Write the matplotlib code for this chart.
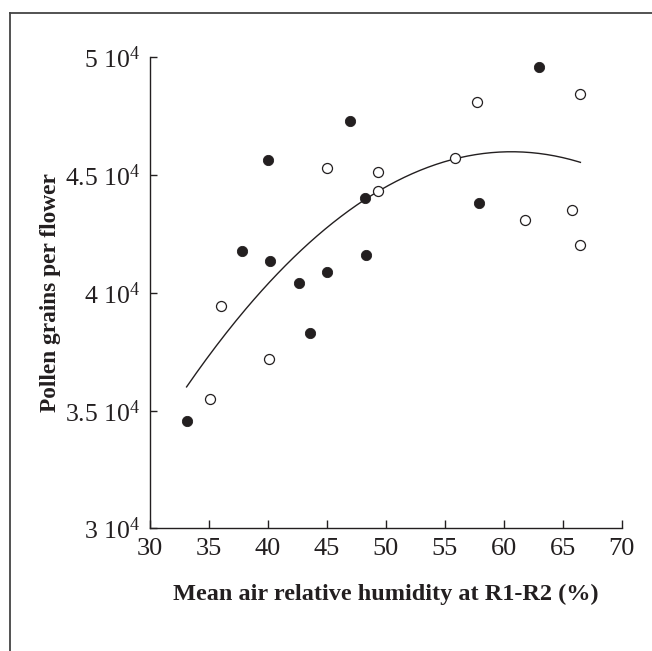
import numpy as np
import matplotlib
matplotlib.use("Agg")
from matplotlib import pyplot as plt
from matplotlib.lines import Line2D

plt.rcParams['font.family'] = ['Liberation Serif', 'DejaVu Serif']
plt.rcParams['mathtext.fontset'] = 'custom'
plt.rcParams['mathtext.rm'] = 'Liberation Serif'
plt.rcParams['mathtext.default'] = 'regular'

INK = '#231f20'

# filled circles
filled_x = [63.0, 47.0, 40.0, 48.2, 57.9, 37.8, 40.2, 48.3, 45.0, 42.6, 43.6, 33.1]
filled_y = [49570, 47280, 45630, 44040, 43830, 41760, 41370, 41620, 40890, 40410, 38280, 34580]

# open circles
open_x = [66.5, 57.7, 45.0, 49.3, 49.3, 55.9, 65.8, 61.8, 66.5, 36.0, 40.1, 35.1]
open_y = [48440, 48100, 45290, 45140, 44340, 45710, 43530, 43110, 42020, 39460, 37210, 35510]

# quadratic fit shown on the chart
fit_coef = [-13.15, 1595.1, -2381.0]
fit_range = (33.1, 66.5)

x_ticks = [30, 35, 40, 45, 50, 55, 60, 65, 70]
y_ticks = [30000, 35000, 40000, 45000, 50000]
y_labels = [r'3 10$^{4}$', r'3.5 10$^{4}$', r'4 10$^{4}$', r'4.5 10$^{4}$', r'5 10$^{4}$']

#%%
fig = plt.figure(figsize=(6.52, 6.51), dpi=100)
ax = fig.add_axes([0.2301, 0.1882, 0.9535 - 0.2301, 0.912 - 0.1882])

xs = np.linspace(fit_range[0], fit_range[1], 200)
ax.plot(xs, np.polyval(fit_coef, xs), color=INK, lw=1.0)

ax.plot(filled_x, filled_y, 'o', ms=7.4, mfc=INK, mec=INK, mew=0.6, ls='none')
ax.plot(open_x, open_y, 'o', ms=7.2, mfc='white', mec=INK, mew=0.9, ls='none')

ax.set_xlim(30, 70)
ax.set_ylim(30000, 50000)
ax.set_xticks(x_ticks)
ax.set_yticks(y_ticks)
ax.set_yticklabels(y_labels)

for side in ['top', 'right']:
    ax.spines[side].set_visible(False)
for side in ['left', 'bottom']:
    ax.spines[side].set_color(INK)
    ax.spines[side].set_linewidth(1.0)

ax.tick_params(axis='x', direction='in', length=6, width=1.0, color=INK,
               labelsize=19, labelcolor=INK, pad=7)
ax.tick_params(axis='y', direction='in', length=5, width=1.0, color=INK,
               labelsize=18.5, labelcolor=INK, pad=7)

ax.set_xlabel('Mean air relative humidity at R1-R2 (%)', fontsize=17.5,
              fontweight='bold', color=INK, labelpad=17)
ax.set_ylabel('Pollen grains per flower', fontsize=16.8,
              fontweight='bold', color=INK, labelpad=3)

# frame around the figure (only top and left edges visible)
fig.add_artist(Line2D([10 / 652, 1.0], [1 - 12.7 / 651] * 2, color='#444444', lw=1.3,
                      transform=fig.transFigure))
fig.add_artist(Line2D([10 / 652] * 2, [0.0, 1 - 12.7 / 651], color='#444444', lw=1.3,
                      transform=fig.transFigure))

fig.savefig('out.png', dpi=100)
